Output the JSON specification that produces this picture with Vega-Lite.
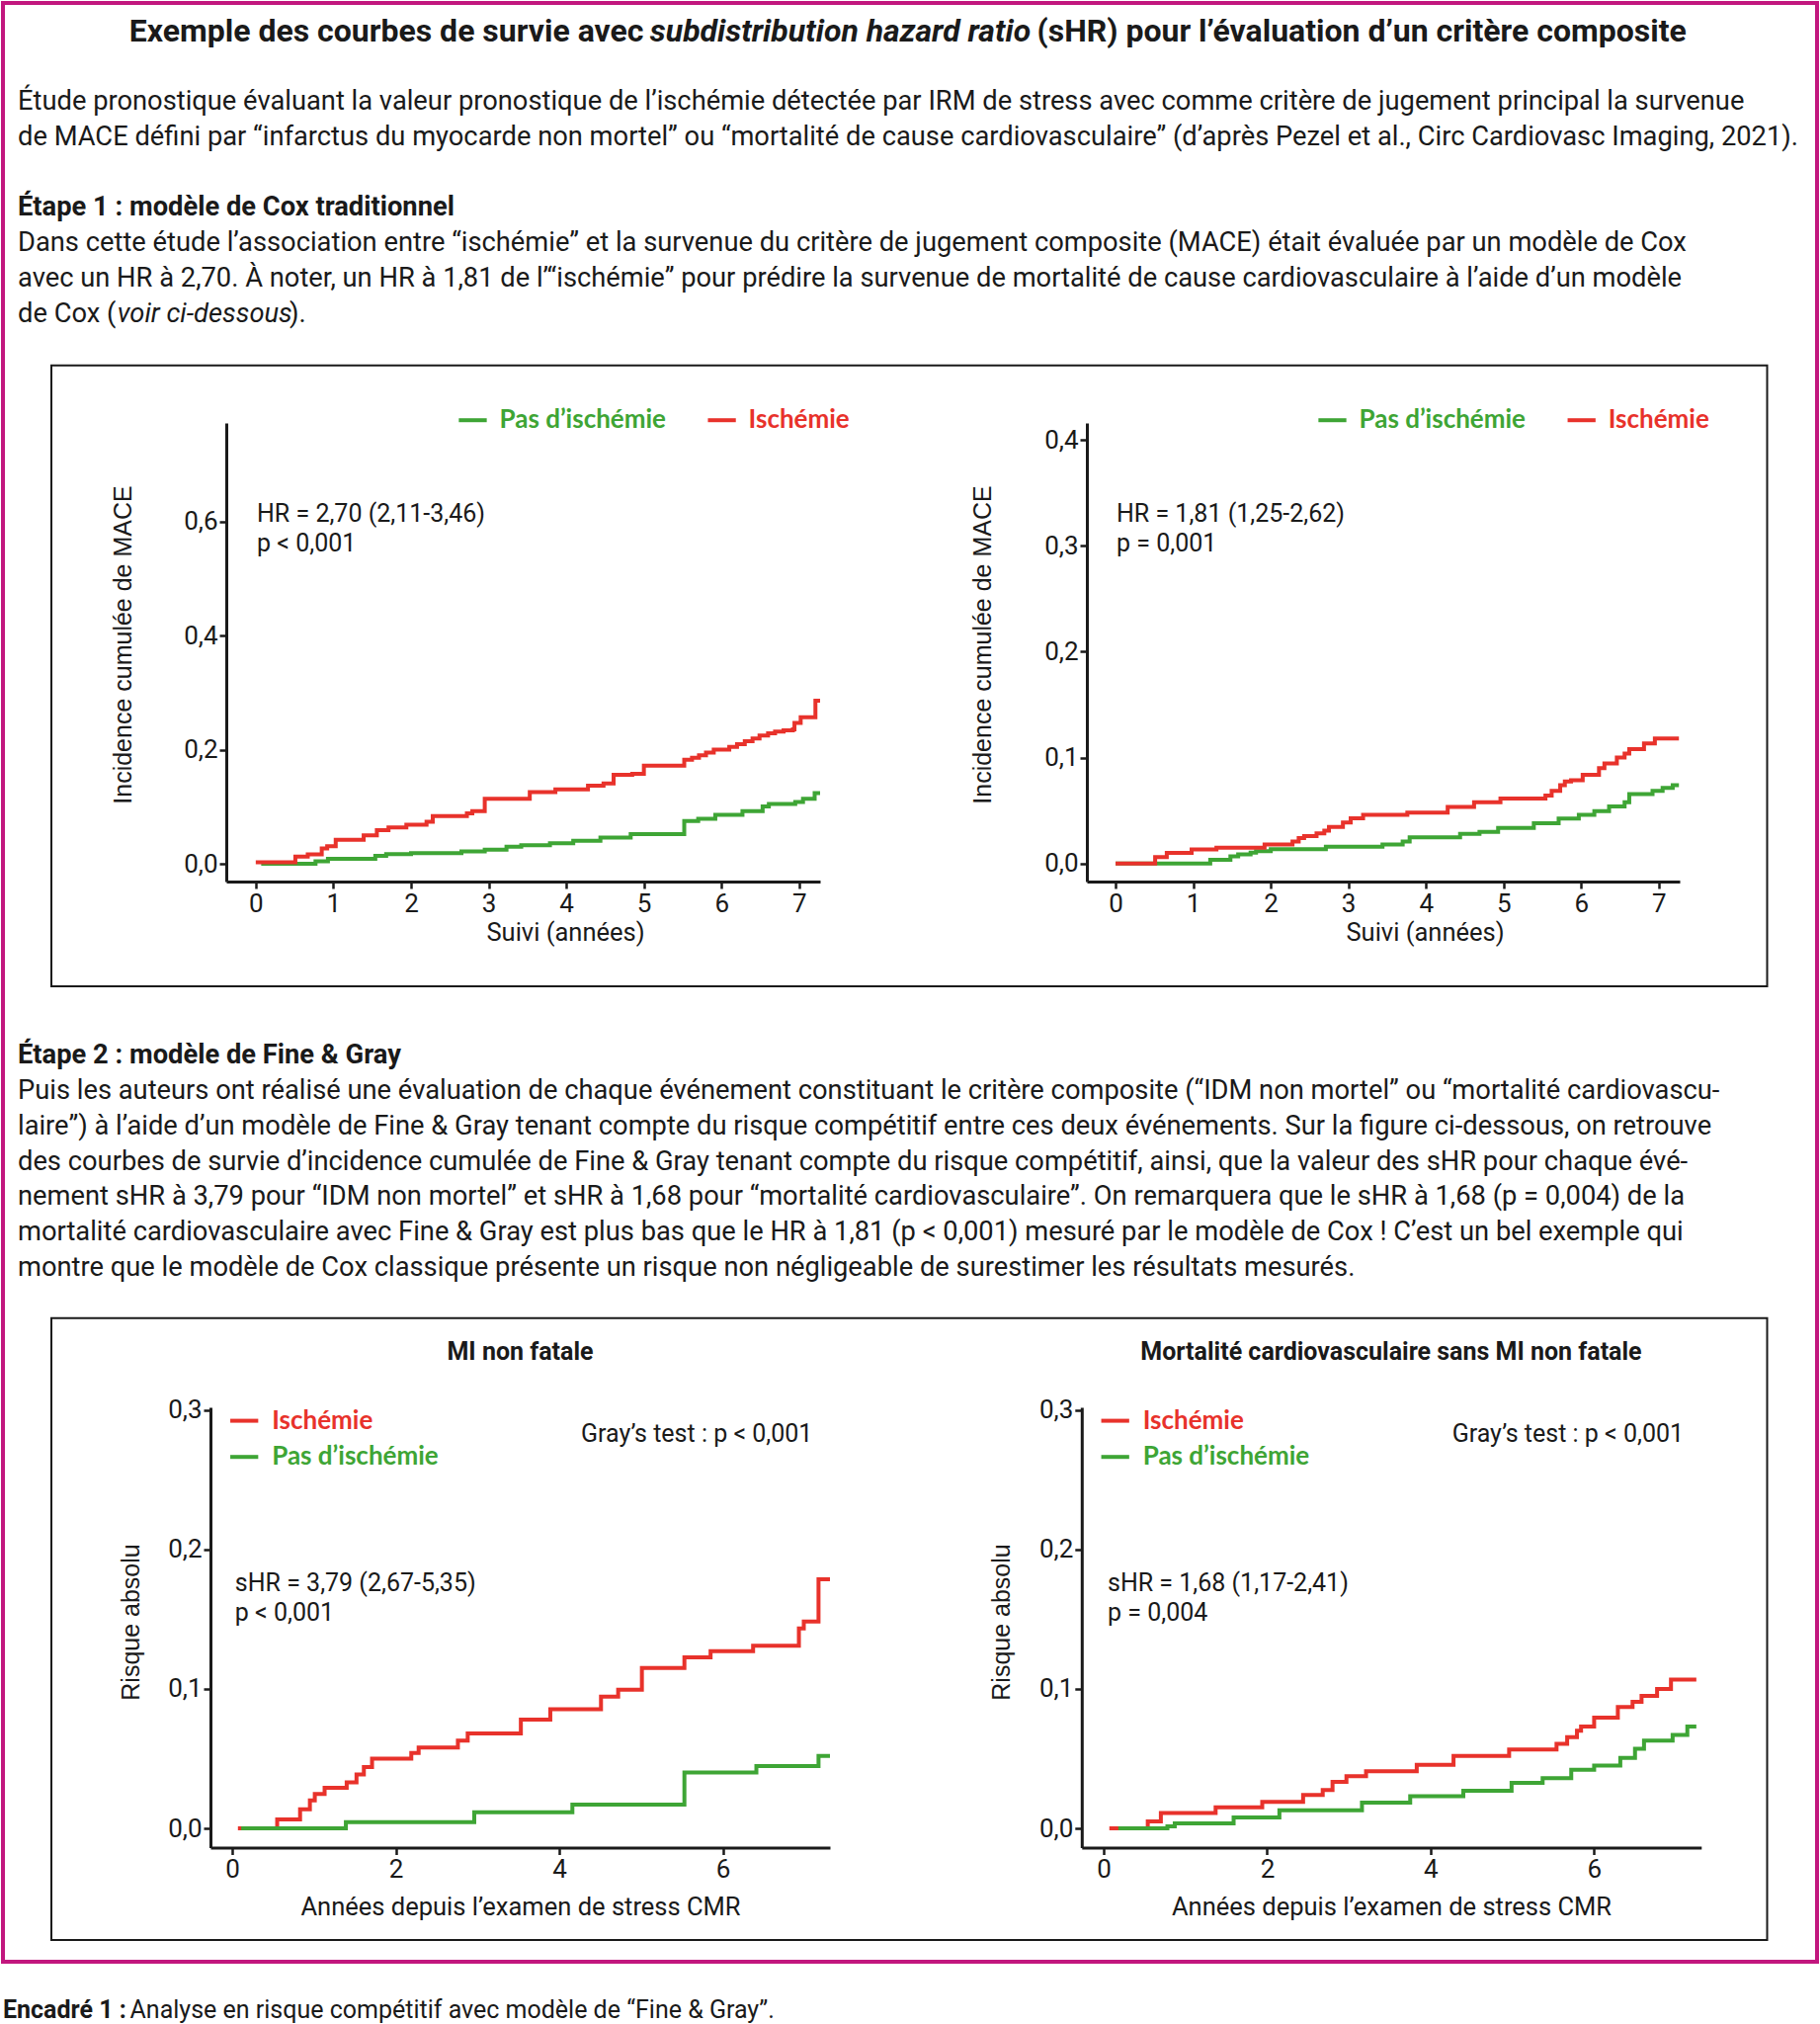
{
  "$schema": "https://vega.github.io/schema/vega-lite/v6.json",
  "width": 1836,
  "height": 1982,
  "autosize": {"type": "none"},
  "padding": {"left": 3, "top": 3, "right": 3, "bottom": 63},
  "background": "white",
  "config": {
    "view": {"stroke": "#c2177e", "strokeWidth": 4},
    "axis": {"zindex": 1, "grid": false, "domainColor": "#1a1a1a", "domainWidth": 3, "tickColor": "#1a1a1a", "tickWidth": 2.5, "tickSize": 7, "labelFont": "Roboto", "labelFontSize": 26, "labelColor": "#1a1a1a", "labelPadding": 2, "labelOverlap": false, "labelFlush": false, "titleFont": "Roboto", "titleFontSize": 25.5, "titleFontWeight": "normal", "titleColor": "#1a1a1a"},
    "legend": {"orient": "none", "padding": 0, "symbolType": "stroke", "symbolSize": 800, "symbolStrokeWidth": 4, "labelFont": "Lato", "labelFontWeight": "bold", "labelFontSize": 26, "labelLimit": 500},
    "text": {"font": "Roboto", "color": "#1a1a1a"}
  },
  "datasets": {
    "curves": [
      {"chart": "c1", "group": "Ischémie", "t": 0.0, "v": 0.003},
      {"chart": "c1", "group": "Ischémie", "t": 0.51, "v": 0.0127},
      {"chart": "c1", "group": "Ischémie", "t": 0.67, "v": 0.0167},
      {"chart": "c1", "group": "Ischémie", "t": 0.85, "v": 0.027},
      {"chart": "c1", "group": "Ischémie", "t": 0.92, "v": 0.031},
      {"chart": "c1", "group": "Ischémie", "t": 1.03, "v": 0.042},
      {"chart": "c1", "group": "Ischémie", "t": 1.39, "v": 0.05},
      {"chart": "c1", "group": "Ischémie", "t": 1.56, "v": 0.059},
      {"chart": "c1", "group": "Ischémie", "t": 1.71, "v": 0.064},
      {"chart": "c1", "group": "Ischémie", "t": 1.94, "v": 0.0686},
      {"chart": "c1", "group": "Ischémie", "t": 2.2, "v": 0.074},
      {"chart": "c1", "group": "Ischémie", "t": 2.28, "v": 0.084},
      {"chart": "c1", "group": "Ischémie", "t": 2.72, "v": 0.0886},
      {"chart": "c1", "group": "Ischémie", "t": 2.79, "v": 0.0926},
      {"chart": "c1", "group": "Ischémie", "t": 2.95, "v": 0.114},
      {"chart": "c1", "group": "Ischémie", "t": 3.53, "v": 0.126},
      {"chart": "c1", "group": "Ischémie", "t": 3.86, "v": 0.1306},
      {"chart": "c1", "group": "Ischémie", "t": 4.28, "v": 0.137},
      {"chart": "c1", "group": "Ischémie", "t": 4.48, "v": 0.141},
      {"chart": "c1", "group": "Ischémie", "t": 4.61, "v": 0.156},
      {"chart": "c1", "group": "Ischémie", "t": 4.85, "v": 0.158},
      {"chart": "c1", "group": "Ischémie", "t": 5.0, "v": 0.172},
      {"chart": "c1", "group": "Ischémie", "t": 5.52, "v": 0.1825},
      {"chart": "c1", "group": "Ischémie", "t": 5.62, "v": 0.186},
      {"chart": "c1", "group": "Ischémie", "t": 5.71, "v": 0.1905},
      {"chart": "c1", "group": "Ischémie", "t": 5.8, "v": 0.195},
      {"chart": "c1", "group": "Ischémie", "t": 5.9, "v": 0.2005},
      {"chart": "c1", "group": "Ischémie", "t": 6.1, "v": 0.205},
      {"chart": "c1", "group": "Ischémie", "t": 6.2, "v": 0.21},
      {"chart": "c1", "group": "Ischémie", "t": 6.3, "v": 0.215},
      {"chart": "c1", "group": "Ischémie", "t": 6.4, "v": 0.22},
      {"chart": "c1", "group": "Ischémie", "t": 6.49, "v": 0.225},
      {"chart": "c1", "group": "Ischémie", "t": 6.6, "v": 0.229},
      {"chart": "c1", "group": "Ischémie", "t": 6.69, "v": 0.232},
      {"chart": "c1", "group": "Ischémie", "t": 6.8, "v": 0.234},
      {"chart": "c1", "group": "Ischémie", "t": 6.92, "v": 0.236},
      {"chart": "c1", "group": "Ischémie", "t": 6.94, "v": 0.247},
      {"chart": "c1", "group": "Ischémie", "t": 7.02, "v": 0.257},
      {"chart": "c1", "group": "Ischémie", "t": 7.21, "v": 0.286},
      {"chart": "c1", "group": "Ischémie", "t": 7.27, "v": 0.286},
      {"chart": "c1", "group": "Pas d’ischémie", "t": 0.07, "v": 0.0},
      {"chart": "c1", "group": "Pas d’ischémie", "t": 0.77, "v": 0.0047},
      {"chart": "c1", "group": "Pas d’ischémie", "t": 0.93, "v": 0.0087},
      {"chart": "c1", "group": "Pas d’ischémie", "t": 1.54, "v": 0.014},
      {"chart": "c1", "group": "Pas d’ischémie", "t": 1.68, "v": 0.0173},
      {"chart": "c1", "group": "Pas d’ischémie", "t": 2.0, "v": 0.019},
      {"chart": "c1", "group": "Pas d’ischémie", "t": 2.65, "v": 0.022},
      {"chart": "c1", "group": "Pas d’ischémie", "t": 2.95, "v": 0.025},
      {"chart": "c1", "group": "Pas d’ischémie", "t": 3.23, "v": 0.03},
      {"chart": "c1", "group": "Pas d’ischémie", "t": 3.42, "v": 0.0326},
      {"chart": "c1", "group": "Pas d’ischémie", "t": 3.79, "v": 0.036},
      {"chart": "c1", "group": "Pas d’ischémie", "t": 4.09, "v": 0.0406},
      {"chart": "c1", "group": "Pas d’ischémie", "t": 4.44, "v": 0.046},
      {"chart": "c1", "group": "Pas d’ischémie", "t": 4.83, "v": 0.052},
      {"chart": "c1", "group": "Pas d’ischémie", "t": 5.52, "v": 0.075},
      {"chart": "c1", "group": "Pas d’ischémie", "t": 5.7, "v": 0.079},
      {"chart": "c1", "group": "Pas d’ischémie", "t": 5.92, "v": 0.086},
      {"chart": "c1", "group": "Pas d’ischémie", "t": 6.27, "v": 0.0926},
      {"chart": "c1", "group": "Pas d’ischémie", "t": 6.53, "v": 0.1006},
      {"chart": "c1", "group": "Pas d’ischémie", "t": 6.61, "v": 0.105},
      {"chart": "c1", "group": "Pas d’ischémie", "t": 6.95, "v": 0.1086},
      {"chart": "c1", "group": "Pas d’ischémie", "t": 7.05, "v": 0.114},
      {"chart": "c1", "group": "Pas d’ischémie", "t": 7.2, "v": 0.124},
      {"chart": "c1", "group": "Pas d’ischémie", "t": 7.27, "v": 0.124},
      {"chart": "c2", "group": "Ischémie", "t": 0.0, "v": 0.0},
      {"chart": "c2", "group": "Ischémie", "t": 0.51, "v": 0.006},
      {"chart": "c2", "group": "Ischémie", "t": 0.66, "v": 0.01},
      {"chart": "c2", "group": "Ischémie", "t": 0.98, "v": 0.0133},
      {"chart": "c2", "group": "Ischémie", "t": 1.3, "v": 0.015},
      {"chart": "c2", "group": "Ischémie", "t": 1.92, "v": 0.018},
      {"chart": "c2", "group": "Ischémie", "t": 2.28, "v": 0.0208},
      {"chart": "c2", "group": "Ischémie", "t": 2.36, "v": 0.024},
      {"chart": "c2", "group": "Ischémie", "t": 2.43, "v": 0.026},
      {"chart": "c2", "group": "Ischémie", "t": 2.59, "v": 0.0284},
      {"chart": "c2", "group": "Ischémie", "t": 2.69, "v": 0.031},
      {"chart": "c2", "group": "Ischémie", "t": 2.75, "v": 0.0345},
      {"chart": "c2", "group": "Ischémie", "t": 2.93, "v": 0.0388},
      {"chart": "c2", "group": "Ischémie", "t": 3.03, "v": 0.0427},
      {"chart": "c2", "group": "Ischémie", "t": 3.19, "v": 0.046},
      {"chart": "c2", "group": "Ischémie", "t": 3.76, "v": 0.048},
      {"chart": "c2", "group": "Ischémie", "t": 4.28, "v": 0.0535},
      {"chart": "c2", "group": "Ischémie", "t": 4.62, "v": 0.058},
      {"chart": "c2", "group": "Ischémie", "t": 4.96, "v": 0.0614},
      {"chart": "c2", "group": "Ischémie", "t": 5.54, "v": 0.0643},
      {"chart": "c2", "group": "Ischémie", "t": 5.62, "v": 0.0686},
      {"chart": "c2", "group": "Ischémie", "t": 5.73, "v": 0.074},
      {"chart": "c2", "group": "Ischémie", "t": 5.79, "v": 0.0776},
      {"chart": "c2", "group": "Ischémie", "t": 5.87, "v": 0.0786},
      {"chart": "c2", "group": "Ischémie", "t": 6.02, "v": 0.0837},
      {"chart": "c2", "group": "Ischémie", "t": 6.23, "v": 0.09},
      {"chart": "c2", "group": "Ischémie", "t": 6.3, "v": 0.0944},
      {"chart": "c2", "group": "Ischémie", "t": 6.46, "v": 0.1},
      {"chart": "c2", "group": "Ischémie", "t": 6.56, "v": 0.1038},
      {"chart": "c2", "group": "Ischémie", "t": 6.62, "v": 0.108},
      {"chart": "c2", "group": "Ischémie", "t": 6.81, "v": 0.1135},
      {"chart": "c2", "group": "Ischémie", "t": 6.95, "v": 0.118},
      {"chart": "c2", "group": "Ischémie", "t": 7.26, "v": 0.118},
      {"chart": "c2", "group": "Pas d’ischémie", "t": 0.0, "v": 0.0},
      {"chart": "c2", "group": "Pas d’ischémie", "t": 1.22, "v": 0.0036},
      {"chart": "c2", "group": "Pas d’ischémie", "t": 1.48, "v": 0.0068},
      {"chart": "c2", "group": "Pas d’ischémie", "t": 1.58, "v": 0.0086},
      {"chart": "c2", "group": "Pas d’ischémie", "t": 1.74, "v": 0.0104},
      {"chart": "c2", "group": "Pas d’ischémie", "t": 1.81, "v": 0.0118},
      {"chart": "c2", "group": "Pas d’ischémie", "t": 2.0, "v": 0.0136},
      {"chart": "c2", "group": "Pas d’ischémie", "t": 2.71, "v": 0.016},
      {"chart": "c2", "group": "Pas d’ischémie", "t": 3.44, "v": 0.018},
      {"chart": "c2", "group": "Pas d’ischémie", "t": 3.7, "v": 0.0208},
      {"chart": "c2", "group": "Pas d’ischémie", "t": 3.79, "v": 0.0248},
      {"chart": "c2", "group": "Pas d’ischémie", "t": 4.44, "v": 0.028},
      {"chart": "c2", "group": "Pas d’ischémie", "t": 4.69, "v": 0.03},
      {"chart": "c2", "group": "Pas d’ischémie", "t": 4.93, "v": 0.0337},
      {"chart": "c2", "group": "Pas d’ischémie", "t": 5.39, "v": 0.038},
      {"chart": "c2", "group": "Pas d’ischémie", "t": 5.71, "v": 0.0424},
      {"chart": "c2", "group": "Pas d’ischémie", "t": 5.97, "v": 0.046},
      {"chart": "c2", "group": "Pas d’ischémie", "t": 6.17, "v": 0.0496},
      {"chart": "c2", "group": "Pas d’ischémie", "t": 6.36, "v": 0.054},
      {"chart": "c2", "group": "Pas d’ischémie", "t": 6.56, "v": 0.0578},
      {"chart": "c2", "group": "Pas d’ischémie", "t": 6.62, "v": 0.0657},
      {"chart": "c2", "group": "Pas d’ischémie", "t": 6.92, "v": 0.0686},
      {"chart": "c2", "group": "Pas d’ischémie", "t": 7.05, "v": 0.0714},
      {"chart": "c2", "group": "Pas d’ischémie", "t": 7.18, "v": 0.074},
      {"chart": "c2", "group": "Pas d’ischémie", "t": 7.26, "v": 0.074},
      {"chart": "c3", "group": "Ischémie", "t": 0.07, "v": 0.0},
      {"chart": "c3", "group": "Ischémie", "t": 0.55, "v": 0.0064},
      {"chart": "c3", "group": "Ischémie", "t": 0.83, "v": 0.0137},
      {"chart": "c3", "group": "Ischémie", "t": 0.95, "v": 0.02},
      {"chart": "c3", "group": "Ischémie", "t": 1.01, "v": 0.0246},
      {"chart": "c3", "group": "Ischémie", "t": 1.13, "v": 0.029},
      {"chart": "c3", "group": "Ischémie", "t": 1.4, "v": 0.033},
      {"chart": "c3", "group": "Ischémie", "t": 1.52, "v": 0.0386},
      {"chart": "c3", "group": "Ischémie", "t": 1.61, "v": 0.044},
      {"chart": "c3", "group": "Ischémie", "t": 1.71, "v": 0.05},
      {"chart": "c3", "group": "Ischémie", "t": 2.19, "v": 0.054},
      {"chart": "c3", "group": "Ischémie", "t": 2.28, "v": 0.058},
      {"chart": "c3", "group": "Ischémie", "t": 2.76, "v": 0.063},
      {"chart": "c3", "group": "Ischémie", "t": 2.88, "v": 0.068},
      {"chart": "c3", "group": "Ischémie", "t": 3.53, "v": 0.078},
      {"chart": "c3", "group": "Ischémie", "t": 3.89, "v": 0.0855},
      {"chart": "c3", "group": "Ischémie", "t": 4.51, "v": 0.0945},
      {"chart": "c3", "group": "Ischémie", "t": 4.72, "v": 0.0995},
      {"chart": "c3", "group": "Ischémie", "t": 5.01, "v": 0.115},
      {"chart": "c3", "group": "Ischémie", "t": 5.53, "v": 0.1227},
      {"chart": "c3", "group": "Ischémie", "t": 5.85, "v": 0.127},
      {"chart": "c3", "group": "Ischémie", "t": 6.37, "v": 0.131},
      {"chart": "c3", "group": "Ischémie", "t": 6.93, "v": 0.1434},
      {"chart": "c3", "group": "Ischémie", "t": 6.99, "v": 0.1484},
      {"chart": "c3", "group": "Ischémie", "t": 7.17, "v": 0.1786},
      {"chart": "c3", "group": "Ischémie", "t": 7.31, "v": 0.1786},
      {"chart": "c3", "group": "Pas d’ischémie", "t": 0.11, "v": 0.0},
      {"chart": "c3", "group": "Pas d’ischémie", "t": 1.39, "v": 0.0045},
      {"chart": "c3", "group": "Pas d’ischémie", "t": 2.96, "v": 0.0115},
      {"chart": "c3", "group": "Pas d’ischémie", "t": 4.16, "v": 0.017},
      {"chart": "c3", "group": "Pas d’ischémie", "t": 5.53, "v": 0.04},
      {"chart": "c3", "group": "Pas d’ischémie", "t": 6.41, "v": 0.0447},
      {"chart": "c3", "group": "Pas d’ischémie", "t": 7.17, "v": 0.052},
      {"chart": "c3", "group": "Pas d’ischémie", "t": 7.31, "v": 0.052},
      {"chart": "c4", "group": "Ischémie", "t": 0.07, "v": 0.0},
      {"chart": "c4", "group": "Ischémie", "t": 0.54, "v": 0.005},
      {"chart": "c4", "group": "Ischémie", "t": 0.7, "v": 0.011},
      {"chart": "c4", "group": "Ischémie", "t": 1.37, "v": 0.015},
      {"chart": "c4", "group": "Ischémie", "t": 1.94, "v": 0.019},
      {"chart": "c4", "group": "Ischémie", "t": 2.44, "v": 0.024},
      {"chart": "c4", "group": "Ischémie", "t": 2.68, "v": 0.0275},
      {"chart": "c4", "group": "Ischémie", "t": 2.8, "v": 0.0334},
      {"chart": "c4", "group": "Ischémie", "t": 2.97, "v": 0.0374},
      {"chart": "c4", "group": "Ischémie", "t": 3.21, "v": 0.041},
      {"chart": "c4", "group": "Ischémie", "t": 3.83, "v": 0.0455},
      {"chart": "c4", "group": "Ischémie", "t": 4.28, "v": 0.052},
      {"chart": "c4", "group": "Ischémie", "t": 4.96, "v": 0.0565},
      {"chart": "c4", "group": "Ischémie", "t": 5.54, "v": 0.0607},
      {"chart": "c4", "group": "Ischémie", "t": 5.67, "v": 0.0654},
      {"chart": "c4", "group": "Ischémie", "t": 5.79, "v": 0.07},
      {"chart": "c4", "group": "Ischémie", "t": 5.84, "v": 0.073},
      {"chart": "c4", "group": "Ischémie", "t": 6.0, "v": 0.0795},
      {"chart": "c4", "group": "Ischémie", "t": 6.29, "v": 0.087},
      {"chart": "c4", "group": "Ischémie", "t": 6.47, "v": 0.0907},
      {"chart": "c4", "group": "Ischémie", "t": 6.58, "v": 0.095},
      {"chart": "c4", "group": "Ischémie", "t": 6.77, "v": 0.1},
      {"chart": "c4", "group": "Ischémie", "t": 6.94, "v": 0.1067},
      {"chart": "c4", "group": "Ischémie", "t": 7.25, "v": 0.1067},
      {"chart": "c4", "group": "Pas d’ischémie", "t": 0.18, "v": 0.0},
      {"chart": "c4", "group": "Pas d’ischémie", "t": 0.78, "v": 0.0015},
      {"chart": "c4", "group": "Pas d’ischémie", "t": 0.87, "v": 0.0036},
      {"chart": "c4", "group": "Pas d’ischémie", "t": 1.59, "v": 0.0079},
      {"chart": "c4", "group": "Pas d’ischémie", "t": 2.15, "v": 0.013},
      {"chart": "c4", "group": "Pas d’ischémie", "t": 3.16, "v": 0.0185},
      {"chart": "c4", "group": "Pas d’ischémie", "t": 3.75, "v": 0.023},
      {"chart": "c4", "group": "Pas d’ischémie", "t": 4.4, "v": 0.027},
      {"chart": "c4", "group": "Pas d’ischémie", "t": 4.99, "v": 0.0326},
      {"chart": "c4", "group": "Pas d’ischémie", "t": 5.37, "v": 0.036},
      {"chart": "c4", "group": "Pas d’ischémie", "t": 5.72, "v": 0.042},
      {"chart": "c4", "group": "Pas d’ischémie", "t": 6.0, "v": 0.045},
      {"chart": "c4", "group": "Pas d’ischémie", "t": 6.32, "v": 0.0506},
      {"chart": "c4", "group": "Pas d’ischémie", "t": 6.5, "v": 0.057},
      {"chart": "c4", "group": "Pas d’ischémie", "t": 6.61, "v": 0.063},
      {"chart": "c4", "group": "Pas d’ischémie", "t": 6.96, "v": 0.067},
      {"chart": "c4", "group": "Pas d’ischémie", "t": 7.14, "v": 0.073},
      {"chart": "c4", "group": "Pas d’ischémie", "t": 7.25, "v": 0.073}
    ]
  },
  "layer": [
    {
      "layer": [
        {
          "data": {"values": [
            {"line": 2, "text": "Étude pronostique évaluant la valeur pronostique de l’ischémie détectée par IRM de stress avec comme critère de jugement principal la survenue"},
            {"line": 3, "text": "de MACE défini par “infarctus du myocarde non mortel” ou “mortalité de cause cardiovasculaire” (d’après Pezel et al., Circ Cardiovasc Imaging, 2021)."},
            {"line": 6, "text": "Dans cette étude l’association entre “ischémie” et la survenue du critère de jugement composite (MACE) était évaluée par un modèle de Cox"},
            {"line": 7, "text": "avec un HR à 2,70. À noter, un HR à 1,81 de l’“ischémie” pour prédire la survenue de mortalité de cause cardiovasculaire à l’aide d’un modèle"},
            {"line": 8, "text": "de Cox ("},
            {"line": 30, "text": "Puis les auteurs ont réalisé une évaluation de chaque événement constituant le critère composite (“IDM non mortel” ou “mortalité cardiovascu-"},
            {"line": 31, "text": "laire”) à l’aide d’un modèle de Fine & Gray tenant compte du risque compétitif entre ces deux événements. Sur la figure ci-dessous, on retrouve"},
            {"line": 32, "text": "des courbes de survie d’incidence cumulée de Fine & Gray tenant compte du risque compétitif, ainsi, que la valeur des sHR pour chaque évé-"},
            {"line": 33, "text": "nement sHR à 3,79 pour “IDM non mortel” et sHR à 1,68 pour “mortalité cardiovasculaire”. On remarquera que le sHR à 1,68 (p = 0,004) de la"},
            {"line": 34, "text": "mortalité cardiovasculaire avec Fine & Gray est plus bas que le HR à 1,81 (p < 0,001) mesuré par le modèle de Cox ! C’est un bel exemple qui"},
            {"line": 35, "text": "montre que le modèle de Cox classique présente un risque non négligeable de surestimer les résultats mesurés."}
          ]},
          "mark": {"type": "text", "align": "left", "baseline": "middle", "fontSize": 27.3},
          "encoding": {
            "x": {"datum": 0.817, "type": "quantitative", "scale": {"domain": [0, 100], "range": [0, 1836], "nice": false, "zero": false}, "axis": null},
            "y": {"field": "line", "type": "quantitative", "scale": {"domain": [0, 56], "range": [28.5, 2030.5], "nice": false, "zero": false}, "axis": null},
            "text": {"field": "text"}
          }
        },
        {
          "data": {"values": [
            {"line": 5, "text": "Étape 1 : modèle de Cox traditionnel"},
            {"line": 29, "text": "Étape 2 : modèle de Fine & Gray"}
          ]},
          "mark": {"type": "text", "align": "left", "baseline": "middle", "fontSize": 27.3, "fontWeight": "bold"},
          "encoding": {
            "x": {"datum": 0.817, "type": "quantitative", "axis": null},
            "y": {"field": "line", "type": "quantitative", "axis": null},
            "text": {"field": "text"}
          }
        },
        {
          "data": {"values": [{"line": 8, "text": "voir ci-dessous"}]},
          "mark": {"type": "text", "align": "left", "baseline": "middle", "fontSize": 27.3, "fontStyle": "italic"},
          "encoding": {
            "x": {"datum": 6.3, "type": "quantitative", "axis": null},
            "y": {"field": "line", "type": "quantitative", "axis": null},
            "text": {"field": "text"}
          }
        },
        {
          "data": {"values": [{"line": 8, "text": ")."}]},
          "mark": {"type": "text", "align": "left", "baseline": "middle", "fontSize": 27.3},
          "encoding": {
            "x": {"datum": 15.8, "type": "quantitative", "axis": null},
            "y": {"field": "line", "type": "quantitative", "axis": null},
            "text": {"field": "text"}
          }
        },
        {
          "data": {"values": [{"line": 0, "text": "Exemple des courbes de survie avec"}]},
          "mark": {"type": "text", "align": "right", "baseline": "middle", "fontSize": 32, "fontWeight": "bold"},
          "encoding": {
            "x": {"datum": 35.32, "type": "quantitative", "axis": null},
            "y": {"field": "line", "type": "quantitative", "axis": null},
            "text": {"field": "text"}
          }
        },
        {
          "data": {"values": [{"line": 0, "text": "subdistribution hazard ratio"}]},
          "mark": {"type": "text", "align": "center", "baseline": "middle", "fontSize": 32, "fontWeight": "bold", "fontStyle": "italic"},
          "encoding": {
            "x": {"datum": 46.16, "type": "quantitative", "axis": null},
            "y": {"field": "line", "type": "quantitative", "axis": null},
            "text": {"field": "text"}
          }
        },
        {
          "data": {"values": [{"line": 0, "text": "(sHR) pour l’évaluation d’un critère composite"}]},
          "mark": {"type": "text", "align": "left", "baseline": "middle", "fontSize": 32, "fontWeight": "bold"},
          "encoding": {
            "x": {"datum": 57.0, "type": "quantitative", "axis": null},
            "y": {"field": "line", "type": "quantitative", "axis": null},
            "text": {"field": "text"}
          }
        },
        {
          "data": {"values": [{"line": 56, "text": "Encadré 1 :"}]},
          "mark": {"type": "text", "align": "left", "baseline": "middle", "fontSize": 25, "fontWeight": "bold"},
          "encoding": {
            "x": {"datum": 0, "type": "quantitative", "axis": null},
            "y": {"field": "line", "type": "quantitative", "axis": null},
            "text": {"field": "text"}
          }
        },
        {
          "data": {"values": [{"line": 56, "text": "Analyse en risque compétitif avec modèle de “Fine & Gray”."}]},
          "mark": {"type": "text", "align": "left", "baseline": "middle", "fontSize": 25},
          "encoding": {
            "x": {"datum": 7.0, "type": "quantitative", "axis": null},
            "y": {"field": "line", "type": "quantitative", "axis": null},
            "text": {"field": "text"}
          }
        }
      ]
    },
    {
      "layer": [
        {
          "data": {"values": [{"frame": "Étape 1"}]},
          "mark": {"type": "rect", "filled": false, "fillOpacity": 0, "stroke": "#1a1a1a", "strokeWidth": 2},
          "encoding": {
            "x": {"datum": 2.669, "type": "quantitative", "scale": {"domain": [0, 100], "range": [0, 1836], "nice": false, "zero": false}, "axis": null},
            "x2": {"datum": 97.25},
            "y": {"datum": 18.5, "type": "quantitative", "scale": {"domain": [0, 100], "range": [0, 1982], "nice": false, "zero": false}, "axis": null},
            "y2": {"datum": 50.2}
          }
        },
        {
          "data": {"values": [{"frame": "Étape 2"}]},
          "mark": {"type": "rect", "filled": false, "fillOpacity": 0, "stroke": "#1a1a1a", "strokeWidth": 2},
          "encoding": {
            "x": {"datum": 2.669, "type": "quantitative", "axis": null},
            "x2": {"datum": 97.25},
            "y": {"datum": 67.14, "type": "quantitative", "axis": null},
            "y2": {"datum": 98.89}
          }
        }
      ]
    },
    {
      "layer": [
        {
          "data": {"name": "curves"},
          "transform": [{"filter": "datum.chart === 'c1' && datum.group === 'Pas d’ischémie'"}],
          "mark": {"type": "line", "interpolate": "step-after", "strokeWidth": 4},
          "encoding": {
            "x": {"field": "t", "type": "quantitative", "scale": {"domain": [-0.38, 7.27], "range": [226, 827], "nice": false, "zero": false},
                  "axis": {"orient": "bottom", "offset": -1093, "values": [0, 1, 2, 3, 4, 5, 6, 7], "format": "d", "title": "Suivi (années)", "titleX": 569, "titleY": 51, "titleBaseline": "middle", "titleAlign": "center"}},
            "y": {"field": "v", "type": "quantitative", "scale": {"domain": [-0.031, 0.773], "range": [889, 425], "nice": false, "zero": false},
                  "axis": {"orient": "left", "offset": -226, "values": [0, 0.2, 0.4, 0.6], "labelExpr": "replace(format(datum.value, '.1f'), '.', ',')", "title": "Incidence cumulée de MACE", "titleX": -105, "titleY": 649, "titleAngle": -90, "titleBaseline": "middle", "titleAlign": "center", "titleFont": "Liberation Sans", "titleFontSize": 25}},
            "color": {"field": "group", "type": "nominal", "scale": {"domain": ["Pas d’ischémie"], "range": ["#3ea535"]},
                      "legend": {"title": null, "legendX": 459, "legendY": 405.7, "labelColor": "#3ea535", "labelOffset": 10.5}}
          }
        },
        {
          "data": {"name": "curves"},
          "transform": [{"filter": "datum.chart === 'c1' && datum.group === 'Ischémie'"}],
          "mark": {"type": "line", "interpolate": "step-after", "strokeWidth": 4},
          "encoding": {
            "x": {"field": "t", "type": "quantitative"},
            "y": {"field": "v", "type": "quantitative"},
            "color": {"field": "group", "type": "nominal", "scale": {"domain": ["Ischémie"], "range": ["#e8322b"]},
                      "legend": {"title": null, "legendX": 711.1, "legendY": 405.7, "labelColor": "#e8322b", "labelOffset": 10.5}}
          }
        },
        {
          "data": {"values": [{"label": ["HR = 2,70 (2,11-3,46)", "p < 0,001"]}]},
          "mark": {"type": "text", "align": "left", "baseline": "middle", "fontSize": 25, "lineHeight": 30},
          "encoding": {
            "x": {"datum": 0.015, "type": "quantitative"},
            "y": {"datum": 0.6136, "type": "quantitative"},
            "text": {"field": "label"}
          }
        }
      ],
      "resolve": {"scale": {"color": "independent"}, "legend": {"color": "independent"}}
    },
    {
      "layer": [
        {
          "data": {"name": "curves"},
          "transform": [{"filter": "datum.chart === 'c2' && datum.group === 'Pas d’ischémie'"}],
          "mark": {"type": "line", "interpolate": "step-after", "strokeWidth": 4},
          "encoding": {
            "x": {"field": "t", "type": "quantitative", "scale": {"domain": [-0.37, 7.27], "range": [1097, 1697], "nice": false, "zero": false},
                  "axis": {"orient": "bottom", "offset": -1093, "values": [0, 1, 2, 3, 4, 5, 6, 7], "format": "d", "title": "Suivi (années)", "titleX": 1439, "titleY": 51, "titleBaseline": "middle", "titleAlign": "center"}},
            "y": {"field": "v", "type": "quantitative", "scale": {"domain": [-0.017, 0.416], "range": [889, 425], "nice": false, "zero": false},
                  "axis": {"orient": "left", "offset": -1097, "values": [0, 0.1, 0.2, 0.3, 0.4], "labelExpr": "replace(format(datum.value, '.1f'), '.', ',')", "title": "Incidence cumulée de MACE", "titleX": -106, "titleY": 649, "titleAngle": -90, "titleBaseline": "middle", "titleAlign": "center", "titleFont": "Liberation Sans", "titleFontSize": 25}},
            "color": {"field": "group", "type": "nominal", "scale": {"domain": ["Pas d’ischémie"], "range": ["#3ea535"]},
                      "legend": {"title": null, "legendX": 1329, "legendY": 405.7, "labelColor": "#3ea535", "labelOffset": 10.5}}
          }
        },
        {
          "data": {"name": "curves"},
          "transform": [{"filter": "datum.chart === 'c2' && datum.group === 'Ischémie'"}],
          "mark": {"type": "line", "interpolate": "step-after", "strokeWidth": 4},
          "encoding": {
            "x": {"field": "t", "type": "quantitative"},
            "y": {"field": "v", "type": "quantitative"},
            "color": {"field": "group", "type": "nominal", "scale": {"domain": ["Ischémie"], "range": ["#e8322b"]},
                      "legend": {"title": null, "legendX": 1581.2, "legendY": 405.7, "labelColor": "#e8322b", "labelOffset": 10.5}}
          }
        },
        {
          "data": {"values": [{"label": ["HR = 1,81 (1,25-2,62)", "p = 0,001"]}]},
          "mark": {"type": "text", "align": "left", "baseline": "middle", "fontSize": 25, "lineHeight": 30},
          "encoding": {
            "x": {"datum": 0.012, "type": "quantitative"},
            "y": {"datum": 0.3301, "type": "quantitative"},
            "text": {"field": "label"}
          }
        }
      ],
      "resolve": {"scale": {"color": "independent"}, "legend": {"color": "independent"}}
    },
    {
      "layer": [
        {
          "data": {"name": "curves"},
          "transform": [{"filter": "datum.chart === 'c3' && datum.group === 'Ischémie'"}],
          "mark": {"type": "line", "interpolate": "step-after", "strokeWidth": 4},
          "encoding": {
            "x": {"field": "t", "type": "quantitative", "scale": {"domain": [-0.266, 7.31], "range": [210, 837], "nice": false, "zero": false},
                  "axis": {"orient": "bottom", "offset": -115.5, "values": [0, 2, 4, 6], "format": "d", "title": "Années depuis l’examen de stress CMR", "titleX": 523.5, "titleY": 60, "titleBaseline": "middle", "titleAlign": "center"}},
            "y": {"field": "v", "type": "quantitative", "scale": {"domain": [-0.0138, 0.302], "range": [1866.5, 1421], "nice": false, "zero": false},
                  "axis": {"orient": "left", "offset": -210, "values": [0, 0.1, 0.2, 0.3], "labelExpr": "replace(format(datum.value, '.1f'), '.', ',')", "title": "Risque absolu", "titleX": -81, "titleY": 1638, "titleAngle": -90, "titleBaseline": "middle", "titleAlign": "center", "titleFont": "Liberation Sans", "titleFontSize": 25}},
            "color": {"field": "group", "type": "nominal", "scale": {"domain": ["Ischémie"], "range": ["#e8322b"]},
                      "legend": {"title": null, "legendX": 227.7, "legendY": 1418.1, "labelColor": "#e8322b", "labelOffset": 11.5}}
          }
        },
        {
          "data": {"name": "curves"},
          "transform": [{"filter": "datum.chart === 'c3' && datum.group === 'Pas d’ischémie'"}],
          "mark": {"type": "line", "interpolate": "step-after", "strokeWidth": 4},
          "encoding": {
            "x": {"field": "t", "type": "quantitative"},
            "y": {"field": "v", "type": "quantitative"},
            "color": {"field": "group", "type": "nominal", "scale": {"domain": ["Pas d’ischémie"], "range": ["#3ea535"]},
                      "legend": {"title": null, "legendX": 227.7, "legendY": 1454.7, "labelColor": "#3ea535", "labelOffset": 11.5}}
          }
        },
        {
          "data": {"values": [{"label": ["sHR = 3,79 (2,67-5,35)", "p < 0,001"]}]},
          "mark": {"type": "text", "align": "left", "baseline": "middle", "fontSize": 25, "lineHeight": 30},
          "encoding": {
            "x": {"datum": 0.034, "type": "quantitative"},
            "y": {"datum": 0.1761, "type": "quantitative"},
            "text": {"field": "label"}
          }
        },
        {
          "data": {"values": [{"label": "Gray’s test : p < 0,001"}]},
          "mark": {"type": "text", "align": "left", "baseline": "middle", "fontSize": 25},
          "encoding": {
            "x": {"datum": 4.265, "type": "quantitative"},
            "y": {"datum": 0.2826, "type": "quantitative"},
            "text": {"field": "label"}
          }
        },
        {
          "data": {"values": [{"label": "MI non fatale"}]},
          "mark": {"type": "text", "align": "center", "baseline": "middle", "fontSize": 25, "fontWeight": "bold"},
          "encoding": {
            "x": {"datum": 3.522, "type": "quantitative"},
            "y": {"datum": 0.3418, "type": "quantitative"},
            "text": {"field": "label"}
          }
        }
      ],
      "resolve": {"scale": {"color": "independent"}, "legend": {"color": "independent"}}
    },
    {
      "layer": [
        {
          "data": {"name": "curves"},
          "transform": [{"filter": "datum.chart === 'c4' && datum.group === 'Ischémie'"}],
          "mark": {"type": "line", "interpolate": "step-after", "strokeWidth": 4},
          "encoding": {
            "x": {"field": "t", "type": "quantitative", "scale": {"domain": [-0.268, 7.31], "range": [1091.8, 1718.8], "nice": false, "zero": false},
                  "axis": {"orient": "bottom", "offset": -115.5, "values": [0, 2, 4, 6], "format": "d", "title": "Années depuis l’examen de stress CMR", "titleX": 1405, "titleY": 60, "titleBaseline": "middle", "titleAlign": "center"}},
            "y": {"field": "v", "type": "quantitative", "scale": {"domain": [-0.0138, 0.302], "range": [1866.5, 1421], "nice": false, "zero": false},
                  "axis": {"orient": "left", "offset": -1091.8, "values": [0, 0.1, 0.2, 0.3], "labelExpr": "replace(format(datum.value, '.1f'), '.', ',')", "title": "Risque absolu", "titleX": -81, "titleY": 1638, "titleAngle": -90, "titleBaseline": "middle", "titleAlign": "center", "titleFont": "Liberation Sans", "titleFontSize": 25}},
            "color": {"field": "group", "type": "nominal", "scale": {"domain": ["Ischémie"], "range": ["#e8322b"]},
                      "legend": {"title": null, "legendX": 1109.2, "legendY": 1418.1, "labelColor": "#e8322b", "labelOffset": 11.5}}
          }
        },
        {
          "data": {"name": "curves"},
          "transform": [{"filter": "datum.chart === 'c4' && datum.group === 'Pas d’ischémie'"}],
          "mark": {"type": "line", "interpolate": "step-after", "strokeWidth": 4},
          "encoding": {
            "x": {"field": "t", "type": "quantitative"},
            "y": {"field": "v", "type": "quantitative"},
            "color": {"field": "group", "type": "nominal", "scale": {"domain": ["Pas d’ischémie"], "range": ["#3ea535"]},
                      "legend": {"title": null, "legendX": 1109.2, "legendY": 1454.7, "labelColor": "#3ea535", "labelOffset": 11.5}}
          }
        },
        {
          "data": {"values": [{"label": ["sHR = 1,68 (1,17-2,41)", "p = 0,004"]}]},
          "mark": {"type": "text", "align": "left", "baseline": "middle", "fontSize": 25, "lineHeight": 30},
          "encoding": {
            "x": {"datum": 0.049, "type": "quantitative"},
            "y": {"datum": 0.1761, "type": "quantitative"},
            "text": {"field": "label"}
          }
        },
        {
          "data": {"values": [{"label": "Gray’s test : p < 0,001"}]},
          "mark": {"type": "text", "align": "left", "baseline": "middle", "fontSize": 25},
          "encoding": {
            "x": {"datum": 4.263, "type": "quantitative"},
            "y": {"datum": 0.2826, "type": "quantitative"},
            "text": {"field": "label"}
          }
        },
        {
          "data": {"values": [{"label": "Mortalité cardiovasculaire sans MI non fatale"}]},
          "mark": {"type": "text", "align": "center", "baseline": "middle", "fontSize": 25, "fontWeight": "bold"},
          "encoding": {
            "x": {"datum": 3.517, "type": "quantitative"},
            "y": {"datum": 0.3418, "type": "quantitative"},
            "text": {"field": "label"}
          }
        }
      ],
      "resolve": {"scale": {"color": "independent"}, "legend": {"color": "independent"}}
    }
  ],
  "resolve": {
    "scale": {"x": "independent", "y": "independent", "color": "independent"},
    "axis": {"x": "independent", "y": "independent"},
    "legend": {"color": "independent"}
  }
}
